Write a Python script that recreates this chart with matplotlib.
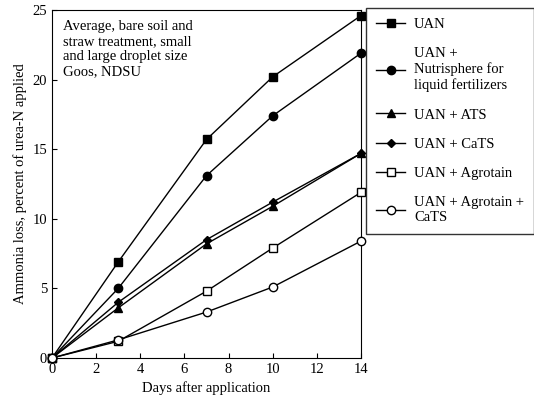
import matplotlib
matplotlib.use("Agg")
import matplotlib.pyplot as plt

days = [0, 3, 7, 10, 14]
uan = [0, 6.9, 15.7, 20.2, 24.6]
nutri = [0, 5.0, 13.1, 17.4, 21.9]
ats = [0, 3.6, 8.2, 10.9, 14.7]
cats = [0, 4.0, 8.5, 11.2, 14.7]
agro = [0, 1.2, 4.8, 7.9, 11.9]
agro_cats = [0, 1.3, 3.3, 5.1, 8.4]
labels = ["UAN", "UAN +\nNutrisphere for\nliquid fertilizers", "UAN + ATS",
          "UAN + CaTS", "UAN + Agrotain", "UAN + Agrotain +\nCaTS"]

plt.rcParams['font.family'] = ['Liberation Serif', 'DejaVu Serif']
fig = plt.figure(figsize=(5.34, 4.13), dpi=100)
ax = fig.add_axes([52/534, 1-358/413, 309/534, 348/413])

styles = [dict(marker='s', mfc='black'), dict(marker='o', mfc='black'),
          dict(marker='^', mfc='black'), dict(marker='D', mfc='black', ms=4.5),
          dict(marker='s', mfc='white'), dict(marker='o', mfc='white')]
series = [uan, nutri, ats, cats, agro, agro_cats]
handles = []
for s, st, lab in zip(series, styles, labels):
    kw = dict(color='black', lw=1, ms=6, mec='black')
    kw.update(st)
    h, = ax.plot(days, s, label=lab, clip_on=False, zorder=3, **kw)
    handles.append(h)

ax.set_xlim(0, 14)
ax.set_ylim(0, 25)
ax.set_xticks(range(0, 15, 2))
ax.set_yticks(range(0, 26, 5))
ax.tick_params(direction='in', labelsize=10.5)
ax.set_xlabel("Days after application", fontsize=10.5)
ax.set_ylabel("Ammonia loss, percent of urea-N applied", fontsize=10.5)
ax.text(0.035, 0.97, "Average, bare soil and\nstraw treatment, small\nand large droplet size\nGoos, NDSU",
        transform=ax.transAxes, va='top', ha='left', fontsize=10.5, linespacing=1.2)

leg = fig.legend(handles=handles, loc='upper left', bbox_to_anchor=(366/534, 1-8/413),
                 frameon=True, fancybox=False, edgecolor='black', fontsize=10.5,
                 labelspacing=1.1, handlelength=2.0, handletextpad=0.6,
                 borderpad=0.7, borderaxespad=0)
leg.get_frame().set_linewidth(1)
fig.savefig("out.png", dpi=100)
